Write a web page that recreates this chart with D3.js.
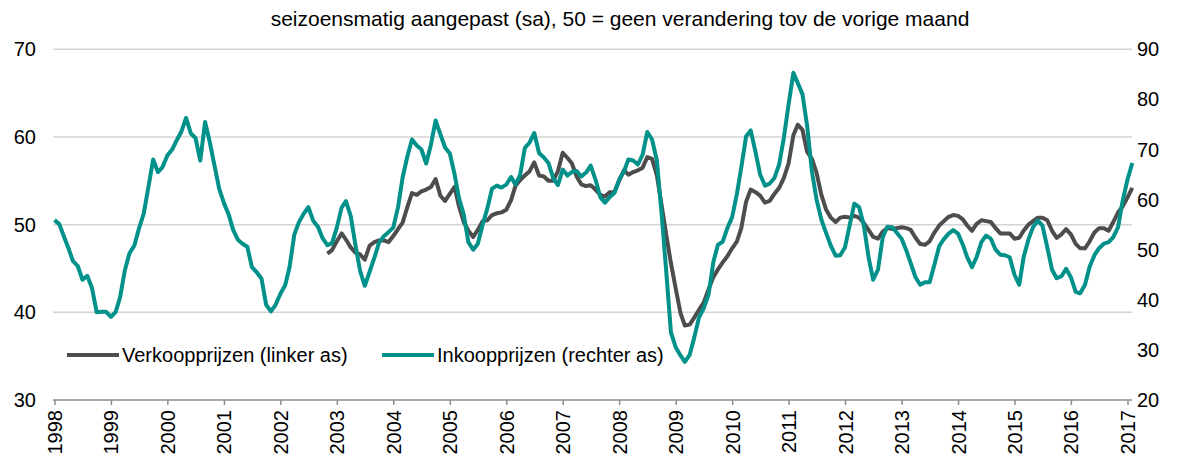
<!DOCTYPE html>
<html>
<head>
<meta charset="utf-8">
<script src="https://cdn.jsdelivr.net/npm/d3@7"></script>
<style>
  body { margin: 0; background: #fff; }
  text { font-family: "Liberation Sans", Arial, sans-serif; fill: #000; }
</style>
</head>
<body>
<svg id="chart" width="1182" height="464"></svg>
<script>
// titel en legenda
const title = "seizoensmatig aangepast (sa), 50 = geen verandering tov de vorige maand";
const seriesNames = ["Verkoopprijzen (linker as)", "Inkoopprijzen (rechter as)"];

// jaren op de x-as
const yearTicks = d3.range(1998, 2018);
const leftTicks = [30, 40, 50, 60, 70];
const rightTicks = [20, 30, 40, 50, 60, 70, 80, 90];

// Inkoopprijzen (rechter as), maandelijks vanaf jan 1998
const inkoopStart = [1998, 0];
const inkoop = [
  55.9, 55.1, 52.8, 50.3, 47.7, 46.7, 44.0, 44.8, 42.3, 37.5, 37.6, 37.6,
  36.6, 37.6, 40.5, 45.9, 49.3, 50.8, 54.2, 57.2, 62.6, 68.0, 65.5, 66.5,
  68.8, 70.0, 71.8, 73.6, 76.3, 73.2, 72.3, 67.8, 75.5, 71.5, 66.8, 62.2,
  59.3, 57.0, 54.0, 52.0, 51.2, 50.6, 46.5, 45.5, 44.2, 39.0, 37.7, 39.0,
  41.2, 42.9, 46.5, 53.0, 55.5, 57.2, 58.5, 55.8, 54.6, 52.3, 50.9, 51.3,
  54.4, 58.4, 59.7, 56.7, 51.0, 45.7, 42.8, 45.6, 48.4, 51.4, 52.7, 53.5,
  54.4, 58.5, 64.3, 68.6, 72.0, 70.8, 70.0, 67.2, 71.0, 75.8, 73.0, 70.4,
  69.2, 65.0, 60.3, 57.0, 51.5, 50.0, 51.2, 55.0, 58.3, 62.2, 62.8, 62.4,
  63.0, 64.5, 63.0, 65.0, 70.3, 71.4, 73.3, 69.3, 68.4, 67.3, 64.3, 62.9,
  66.0, 64.8, 65.5, 65.7, 64.6, 65.4, 66.8, 64.0, 60.5, 59.4, 60.5, 61.3,
  64.0, 65.6, 68.0, 67.8, 67.0, 69.0, 73.5, 72.0, 67.8, 57.5, 45.5, 33.5,
  30.5, 28.9, 27.6, 29.0, 32.5, 36.5, 38.3, 41.0, 47.5, 51.0, 51.6, 54.3,
  56.5, 61.2, 66.4, 72.6, 73.8, 69.5, 65.0, 62.8, 63.2, 64.3, 67.0, 72.3,
  79.0, 85.3, 83.3, 81.0, 74.7, 65.6, 60.0, 56.0, 53.3, 50.8, 48.8, 48.9,
  50.5, 55.0, 59.2, 58.5, 55.0, 48.5, 44.0, 46.0, 52.5, 54.6, 54.5, 53.4,
  52.2, 49.8, 47.3, 44.5, 43.0, 43.5, 43.5, 47.0, 50.7, 52.1, 53.2, 53.9,
  53.2, 51.0, 48.5, 46.5, 48.5, 51.5, 52.8, 52.2, 50.0, 49.0, 48.9, 48.5,
  45.0, 43.0, 48.5, 52.0, 54.5, 55.8, 54.8, 50.5, 46.0, 44.3, 44.7, 46.2,
  44.5, 41.6, 41.3, 43.0, 46.6, 48.9, 50.3, 51.2, 51.5, 52.5, 54.5, 59.8,
  64.0, 67.3
];

// Verkoopprijzen (linker as), maandelijks vanaf nov 2002
const verkoopStart = [2002, 10];
const verkoop = [
  46.7, 47.1,
  48.1, 49.0, 48.3, 47.4, 46.8, 46.6, 46.0, 47.6, 48.0, 48.2, 48.2, 48.0,
  48.7, 49.5, 50.2, 52.0, 53.6, 53.4, 53.8, 54.0, 54.3, 55.2, 53.3, 52.7,
  53.5, 54.3, 52.1, 50.3, 49.3, 48.6, 49.4, 50.4, 50.5, 51.1, 51.3, 51.4,
  51.7, 52.8, 54.4, 55.1, 55.6, 56.1, 57.1, 55.6, 55.5, 55.0, 55.0, 56.1,
  58.2, 57.6, 57.0, 55.5, 54.6, 54.4, 54.5, 54.0, 53.4, 53.2, 53.7, 53.7,
  55.0, 56.2, 55.7, 56.0, 56.2, 56.5, 57.7, 57.5, 55.6, 52.3, 48.8, 45.6,
  42.7, 39.9, 38.5, 38.6, 39.4, 40.3, 41.1, 42.6, 44.0, 44.9, 45.7, 46.4,
  47.3, 48.1, 49.6, 52.6, 54.0, 53.7, 53.3, 52.5, 52.7, 53.5, 54.2, 55.3,
  57.0, 60.2, 61.4, 60.8, 58.3, 57.5, 55.9, 53.4, 51.7, 50.8, 50.3, 50.8,
  50.9, 50.8, 51.0, 50.8, 50.2, 49.4, 48.6, 48.4, 49.2, 49.6, 49.5, 49.6,
  49.7, 49.6, 49.4, 48.5, 47.8, 47.7, 48.1, 49.1, 49.9, 50.4, 50.9, 51.1,
  51.0, 50.6, 49.9, 49.3, 50.1, 50.5, 50.4, 50.3, 49.6, 49.0, 49.0, 49.0,
  48.4, 48.5, 49.3, 50.0, 50.4, 50.8, 50.8, 50.5, 49.3, 48.5, 48.9, 49.5,
  48.9, 47.8, 47.3, 47.3, 48.1, 49.1, 49.6, 49.6, 49.3, 50.3, 51.4, 52.1,
  53.1, 54.2
];

const colors = { verkoop: "#4d4d4d", inkoop: "#00918a" };

const svg = d3.select("#chart");
const margin = { left: 54.5, right: 1127.5, top: 49.3, bottom: 400 };
const plotEnd = 1132;

const toSeries = (vals, start) =>
  vals.map((v, i) => ({ date: new Date(start[0], start[1] + i, 1), v: v }));
const inkoopData = toSeries(inkoop, inkoopStart);
const verkoopData = toSeries(verkoop, verkoopStart);

let x = d3.scaleTime()
  .domain([new Date(1998, 0, 1), new Date(2017, 0, 1)])
  .range([margin.left, margin.right]);
let yLeft = d3.scaleLinear().domain([30, 70]).range([margin.bottom, margin.top]);
let yRight = d3.scaleLinear().domain([20, 90]).range([margin.bottom, margin.top]);

// title
svg.append("text")
  .attr("x", 620).attr("y", 26)
  .attr("text-anchor", "middle")
  .style("font-size", "21px")
  .text(title);

// gridlines
svg.append("g").selectAll("line")
  .data(leftTicks.slice(1))
  .enter().append("line")
  .attr("x1", 53).attr("x2", plotEnd)
  .attr("y1", d => yLeft(d)).attr("y2", d => yLeft(d))
  .attr("stroke", "#d4d4d4").attr("stroke-width", 1.5);

// left axis labels
svg.append("g").selectAll("text")
  .data(leftTicks)
  .enter().append("text")
  .attr("x", 36).attr("y", d => yLeft(d))
  .attr("dy", "0.35em")
  .attr("text-anchor", "end")
  .style("font-size", "20px")
  .text(d => d);

// right axis labels
svg.append("g").selectAll("text")
  .data(rightTicks)
  .enter().append("text")
  .attr("x", 1137).attr("y", d => yRight(d))
  .attr("dy", "0.35em")
  .attr("text-anchor", "start")
  .style("font-size", "20px")
  .text(d => d);

// x axis
let xAxis = svg.append("g")
  .attr("transform", "translate(0," + margin.bottom + ")")
  .call(d3.axisBottom(x)
    .tickValues(yearTicks.map(y => new Date(y, 0, 1)))
    .tickFormat(d3.timeFormat("%Y"))
    .tickSize(5)
    .tickSizeOuter(0));
xAxis.select(".domain").attr("d", "M53,0H" + plotEnd).attr("stroke", "#8c8c8c").attr("stroke-width", 1.5);
xAxis.selectAll(".tick line").attr("stroke", "#8c8c8c").attr("stroke-width", 1.5);
xAxis.selectAll(".tick text")
  .attr("y", 0).attr("x", -10)
  .attr("dy", "0.35em")
  .attr("transform", "rotate(-90)")
  .style("text-anchor", "end")
  .style("font-size", "20px")
  .style("font-family", "'Liberation Sans', Arial, sans-serif")
  .attr("fill", "#000");

// lines
let inkoopLine = d3.line().x(d => x(d.date)).y(d => yRight(d.v));
let verkoopLine = d3.line().x(d => x(d.date)).y(d => yLeft(d.v));

svg.append("path").datum(verkoopData)
  .attr("d", verkoopLine)
  .attr("fill", "none")
  .attr("stroke", colors.verkoop)
  .attr("stroke-width", 4)
  .attr("stroke-linejoin", "round");

svg.append("path").datum(inkoopData)
  .attr("d", inkoopLine)
  .attr("fill", "none")
  .attr("stroke", colors.inkoop)
  .attr("stroke-width", 4)
  .attr("stroke-linejoin", "round");

// legend
const legendItems = [
  { name: seriesNames[0], color: colors.verkoop, x: 67 },
  { name: seriesNames[1], color: colors.inkoop, x: 382 }
];
let legend = svg.append("g").selectAll("g")
  .data(legendItems)
  .enter().append("g")
  .attr("transform", d => "translate(" + d.x + ",355)");
legend.append("line")
  .attr("x1", 0).attr("x2", 52)
  .attr("stroke", d => d.color)
  .attr("stroke-width", 4);
legend.append("text")
  .attr("x", 55).attr("dy", "0.35em")
  .style("font-size", "20px")
  .text(d => d.name);
</script>
</body>
</html>
